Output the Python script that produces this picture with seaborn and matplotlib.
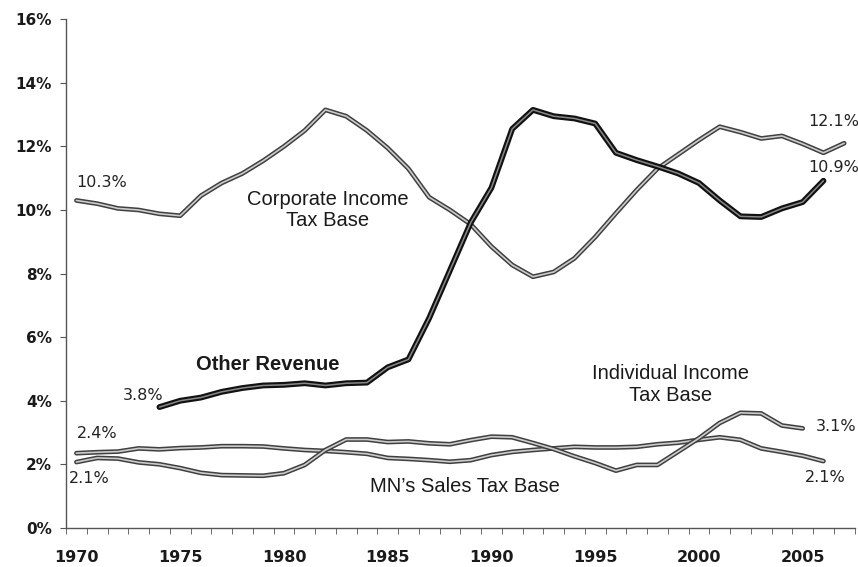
import matplotlib
matplotlib.use("Agg")
import matplotlib.pyplot as plt
import matplotlib.patheffects as pe
import seaborn as sns
import pandas as pd

corp_years = list(range(1970, 2008))
corp_vals = [10.3, 10.2, 10.05, 10.0, 9.88, 9.82, 10.45, 10.85, 11.15, 11.55,
             12.0, 12.5, 13.15, 12.95, 12.5, 11.95, 11.3, 10.4, 10.0, 9.55,
             8.85, 8.27, 7.9, 8.05, 8.48, 9.15, 9.9, 10.63, 11.3, 11.75,
             12.2, 12.62, 12.45, 12.25, 12.33, 12.08, 11.8, 12.1]

other_years = list(range(1974, 2007))
other_vals = [3.8, 4.0, 4.1, 4.28, 4.4, 4.48, 4.5, 4.55, 4.48, 4.55,
              4.57, 5.05, 5.3, 6.6, 8.1, 9.6, 10.7, 12.55, 13.15, 12.95,
              12.88, 12.72, 11.8, 11.57, 11.37, 11.15, 10.85, 10.3, 9.8, 9.78,
              10.05, 10.25, 10.92]

indiv_years = list(range(1970, 2006))
indiv_vals = [2.07, 2.2, 2.18, 2.06, 2.0, 1.88, 1.73, 1.66, 1.65, 1.64,
              1.72, 1.98, 2.45, 2.78, 2.78, 2.7, 2.72, 2.66, 2.63, 2.76,
              2.87, 2.85, 2.67, 2.48, 2.25, 2.04, 1.8, 1.98, 1.98, 2.4,
              2.82, 3.3, 3.62, 3.6, 3.22, 3.13]

sales_years = list(range(1970, 2007))
sales_vals = [2.35, 2.38, 2.4, 2.5, 2.47, 2.51, 2.53, 2.57, 2.57, 2.56,
              2.5, 2.45, 2.42, 2.38, 2.33, 2.2, 2.17, 2.13, 2.08, 2.13,
              2.29, 2.39, 2.45, 2.5, 2.55, 2.53, 2.53, 2.55, 2.63, 2.68,
              2.77, 2.85, 2.77, 2.5, 2.39, 2.27, 2.1]

y_ticks = [0, 2, 4, 6, 8, 10, 12, 14, 16]
x_label_years = [1970, 1975, 1980, 1985, 1990, 1995, 2000, 2005]

sns.set_style("white")
plt.rcParams['font.family'] = ['DejaVu Sans']

fig = plt.figure(figsize=(8.58, 5.67), dpi=100)
ax = fig.add_axes([0.077, 0.069, 0.919, 0.897])

gray_fx = [pe.Stroke(linewidth=3.4, foreground='#404040'),
           pe.Stroke(linewidth=1.2, foreground='#cccccc')]
dark_fx = [pe.Stroke(linewidth=4.2, foreground='#111111'),
           pe.Stroke(linewidth=1.1, foreground='#888888')]

series = [
    (corp_years, corp_vals, gray_fx),
    (sales_years, sales_vals, gray_fx),
    (indiv_years, indiv_vals, gray_fx),
    (other_years, other_vals, dark_fx),
]
for yrs, vals, fx in series:
    df = pd.DataFrame({"year": yrs, "value": vals})
    sns.lineplot(data=df, x="year", y="value", ax=ax, color='#555555',
                 linewidth=3, path_effects=fx)

ax.set_xlim(1969.5, 2007.5)
ax.set_ylim(0, 16)
ax.set_xlabel("")
ax.set_ylabel("")

ax.set_yticks(y_ticks)
ax.set_yticklabels([f"{v}%" for v in y_ticks], fontsize=11, fontweight='bold',
                   color='#1a1a1a')
ax.set_xticks(x_label_years)
ax.set_xticklabels([str(y) for y in x_label_years], fontsize=11.5,
                   fontweight='bold', color='#1a1a1a')
ax.set_xticks([y + 0.5 for y in range(1969, 2008)], minor=True)
ax.tick_params(axis='x', which='major', length=0, pad=16)
ax.tick_params(axis='x', which='minor', length=4, direction='out',
               color='#555555', bottom=True)
ax.tick_params(axis='y', which='major', length=4, direction='out',
               color='#555555', left=True, pad=6)

for side in ['top', 'right']:
    ax.spines[side].set_visible(False)
for side in ['left', 'bottom']:
    ax.spines[side].set_color('#555555')
    ax.spines[side].set_linewidth(1.0)

num_kw = dict(fontsize=11.5, color='#222222', ha='center', va='center')
ax.text(1971.2, 10.85, "10.3%", **num_kw)
ax.text(1973.2, 4.18, "3.8%", **num_kw)
ax.text(1971.0, 2.98, "2.4%", **num_kw)
ax.text(1970.6, 1.54, "2.1%", **num_kw)
ax.text(2006.5, 12.77, "12.1%", **num_kw)
ax.text(2006.5, 11.35, "10.9%", **num_kw)
ax.text(2006.6, 3.2, "3.1%", **num_kw)
ax.text(2006.1, 1.6, "2.1%", **num_kw)

lab_kw = dict(fontsize=14.5, color='#1a1a1a', ha='center', va='center',
              family='Liberation Sans', linespacing=1.15)
ax.text(1982.1, 10.0, "Corporate Income\nTax Base", **lab_kw)
ax.text(1979.2, 5.13, "Other Revenue", fontweight='bold', **lab_kw)
ax.text(1998.65, 4.51, "Individual Income\nTax Base", **lab_kw)
ax.text(1988.7, 1.29, "MN\u2019s Sales Tax Base", **lab_kw)

fig.savefig("out.png", dpi=100)
